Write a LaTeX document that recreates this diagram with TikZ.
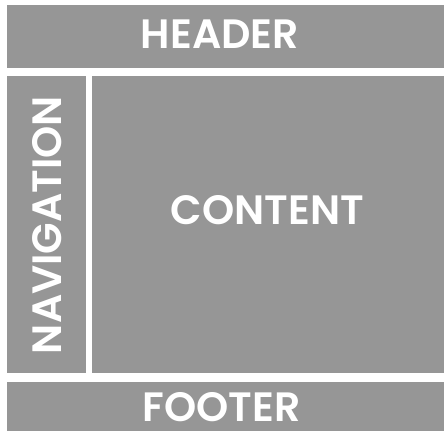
\documentclass[tikz,border=0pt]{standalone}
\usepackage{fontspec}
\setmainfont{Poppins}[BoldFont={* SemiBold}]
\definecolor{panel}{RGB}{150,150,150}
\tikzset{
	panel/.style={fill=panel},
	label/.style={text=white, font=\bfseries\fontsize{41}{41}\selectfont, inner sep=0pt}
}
\begin{document}
\begin{tikzpicture}[x=1pt,y=-1pt]
	\useasboundingbox (0,0) rectangle (444,431);
	\fill[panel] (7,5) rectangle (444,68);
	\fill[panel] (7,76) rectangle (86,373);
	\fill[panel] (92,76) rectangle (444,373);
	\fill[panel] (7,382) rectangle (444,431);
	\node[label] (header) at (220,34) {HEADER};
	\node[label, rotate=90] (navigation) at (47.5,225) {NAVIGATION};
	\node[label] (content) at (267.5,210) {CONTENT};
	\node[label] (footer) at (221.5,407) {FOOTER};
\end{tikzpicture}
\end{document}
